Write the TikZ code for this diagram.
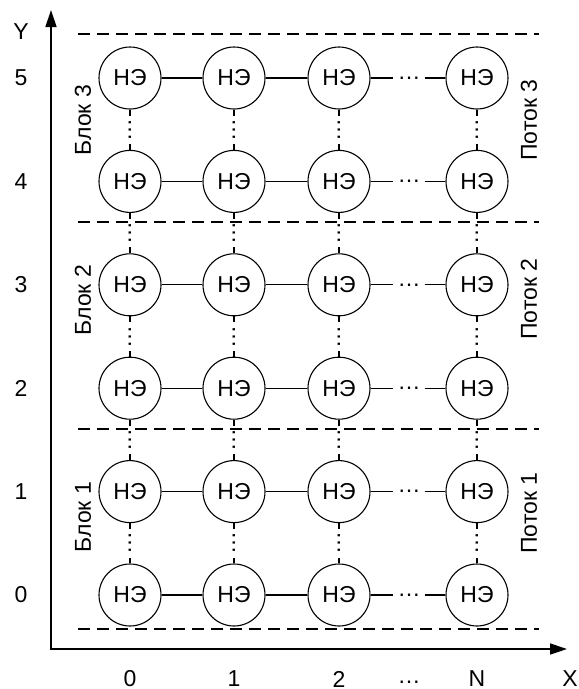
\documentclass[tikz,border=0pt]{standalone}
\usepackage{fontspec}
\setmainfont{Liberation Sans}
\usetikzlibrary{arrows.meta,calc}
\begin{document}
\begin{tikzpicture}[x=1pt,y=-1pt,
  txt/.style={font=\fontsize{23}{27}\selectfont},
  ne/.style={txt,circle,draw,line width=1.1pt,minimum size=62pt,inner sep=0pt},
  lbl/.style={txt,inner sep=0pt},
  hdots/.style={txt,inner ysep=0pt,inner xsep=4pt},
  vdots/.style={txt,inner ysep=0pt,inner xsep=2.5pt,rotate=90},
  conn/.style={line width=1.1pt},
  sep/.style={line width=1.1pt,dash pattern=on 12pt off 7pt},
  axis/.style={line width=1.4pt,{Triangle[length=17pt,width=11pt]}-{Triangle[length=17pt,width=11pt]}}]
\useasboundingbox (0,0) rectangle (579,689);

% separators
\draw[sep] (78,34) -- (539,34);
\draw[sep] (78,222) -- (539,222);
\draw[sep] (78,429) -- (539,429);
\draw[sep] (78,629) -- (539,629);

% axes
\coordinate (Ytip) at (51,10);
\coordinate (O) at (51,649);
\coordinate (Xtip) at (567,649);
\draw[axis] (Ytip) -- (O) -- (Xtip);
\node[lbl] (ylab) at (21,32) {Y};
\node[lbl] (xlab) at (570,679) {X};

% nodes
\foreach \r/\y in {0/595,1/491.6,2/388.2,3/284.8,4/181.4,5/78} {
  \foreach \c/\x in {0/130,1/234,2/339,3/477} {
    \node[ne] (n\c\r) at (\x,\y) {НЭ};
  }
  \node[lbl] (yl\r) at (21,\y) {\r};
  \draw[conn] (n0\r) -- (n1\r);
  \draw[conn] (n1\r) -- (n2\r);
  \node[hdots] (hd\r) at (409,\y) {…};
  \draw[conn] (n2\r) -- (hd\r) -- (n3\r);
}

% vertical connections
\foreach \r/\rr in {0/1,1/2,2/3,3/4,4/5} {
  \foreach \c in {0,1,2,3} {
    \node[vdots] (v\c\r) at ($(n\c\r)!0.5!(n\c\rr)$) {…};
    \draw[conn] (n\c\r) -- (v\c\r) -- (n\c\rr);
  }
}

% x axis labels
\node[lbl] (x0) at (130,679) {0};
\node[lbl] (x1) at (234,679) {1};
\node[lbl] (x2) at (339,679) {2};
\node[lbl] (xd) at (409,682) {…};
\node[lbl] (xN) at (477,679) {N};

% block and stream labels
\node[lbl,rotate=90] (b3) at (83,120) {Блок 3};
\node[lbl,rotate=90] (b2) at (83,300) {Блок 2};
\node[lbl,rotate=90] (b1) at (83,517) {Блок 1};
\node[lbl,rotate=90] (p3) at (529,120) {Поток 3};
\node[lbl,rotate=90] (p2) at (529,299) {Поток 2};
\node[lbl,rotate=90] (p1) at (529,513) {Поток 1};
\end{tikzpicture}
\end{document}
